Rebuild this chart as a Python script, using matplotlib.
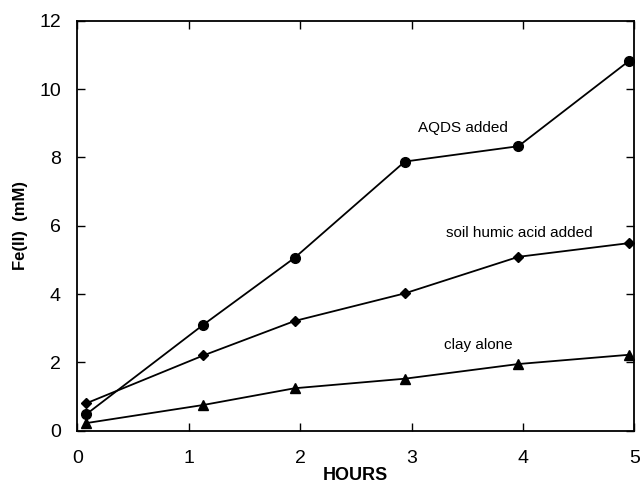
import matplotlib
matplotlib.use('Agg')
import matplotlib.pyplot as plt

plt.rcParams['font.family'] = ['Liberation Sans', 'DejaVu Sans']

hours = [0.08, 1.13, 1.95, 2.94, 3.96, 4.95]
aqds = [0.48, 3.10, 5.06, 7.88, 8.33, 10.82]
humic = [0.80, 2.20, 3.21, 4.02, 5.09, 5.49]
clay = [0.22, 0.75, 1.24, 1.52, 1.95, 2.22]

fig = plt.figure(figsize=(6.4, 4.86), dpi=100)
ax = fig.add_axes([0.121, 0.114, 0.870, 0.843])

ax.plot(hours, aqds, color='black', lw=1.3, marker='o', ms=7)
ax.plot(hours, humic, color='black', lw=1.3, marker='D', ms=5)
ax.plot(hours, clay, color='black', lw=1.3, marker='^', ms=7)

ax.text(3.46, 8.87, 'AQDS added', ha='center', va='center', fontsize=11)
ax.text(3.97, 5.78, 'soil humic acid added', ha='center', va='center', fontsize=11)
ax.text(3.6, 2.51, 'clay alone', ha='center', va='center', fontsize=11)

ax.set_xlim(0, 5)
ax.set_ylim(0, 12)
ax.set_xticks([0, 1, 2, 3, 4, 5])
ax.set_yticks([0, 2, 4, 6, 8, 10, 12])
ax.tick_params(direction='in', length=6, width=1, top=True, right=True, labelsize=14)
ax.tick_params(axis='x', pad=14)
ax.tick_params(axis='y', pad=12)
for s in ax.spines.values():
    s.set_linewidth(1.3)

ax.set_xlabel('HOURS', fontsize=13, fontweight='bold', labelpad=0)
ax.set_ylabel('Fe(II)  (mM)', fontsize=12, fontweight='bold', labelpad=8)

fig.savefig('out.png', dpi=100)
